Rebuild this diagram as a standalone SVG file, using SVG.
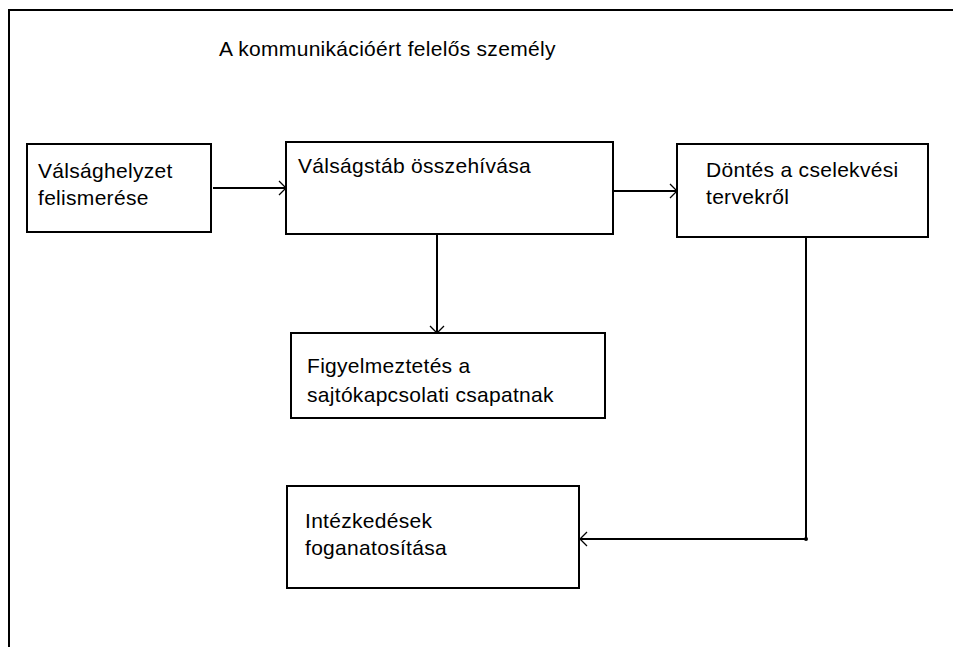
<svg xmlns="http://www.w3.org/2000/svg" width="953" height="647" viewBox="0 0 953 647">
<style>
.box{fill:#fff;stroke:#000;stroke-width:2}
.t{font-family:"Liberation Sans",Arial,sans-serif;font-size:21px;letter-spacing:0.3px;fill:#000}
.c{fill:none;stroke:#000;stroke-width:2}
</style>
<defs>
<marker id="ah" markerWidth="12" markerHeight="18" refX="11" refY="9" orient="auto" markerUnits="userSpaceOnUse">
<path d="M4,2 L11,9 L4,16" fill="none" stroke="#000" stroke-width="1.3"/>
</marker>
</defs>
<rect width="953" height="647" fill="#fff"/>
<path d="M9,647 V10 H953" fill="none" stroke="#000" stroke-width="2"/>
<text class="t" x="219" y="56">A kommunikációért felelős személy</text>
<g id="n1"><rect class="box" x="27" y="144" width="184" height="88"/><text class="t" x="38" y="178">Válsághelyzet</text><text class="t" x="38" y="205">felismerése</text></g>
<g id="n2"><rect class="box" x="286" y="142" width="327" height="92"/><text class="t" x="298" y="173">Válságstáb összehívása</text></g>
<g id="n3"><rect class="box" x="677" y="144" width="251" height="93"/><text class="t" x="706" y="177">Döntés a cselekvési</text><text class="t" x="706" y="204">tervekről</text></g>
<g id="n4"><rect class="box" x="291" y="333" width="314" height="85"/><text class="t" x="307" y="373">Figyelmeztetés a</text><text class="t" x="307" y="402">sajtókapcsolati csapatnak</text></g>
<g id="n5"><rect class="box" x="287" y="486" width="292" height="102"/><text class="t" x="305" y="528">Intézkedések</text><text class="t" x="305" y="555">foganatosítása</text></g>
<g id="connectors">
<line class="c" x1="213" y1="188" x2="286" y2="188" marker-end="url(#ah)"/>
<line class="c" x1="613" y1="191" x2="677" y2="191" marker-end="url(#ah)"/>
<line class="c" x1="437" y1="234" x2="437" y2="333" marker-end="url(#ah)"/>
<path class="c" d="M806,237 V539 H580" marker-end="url(#ah)"/>
<circle cx="806" cy="539" r="2" fill="#000"/>
</g>
</svg>
